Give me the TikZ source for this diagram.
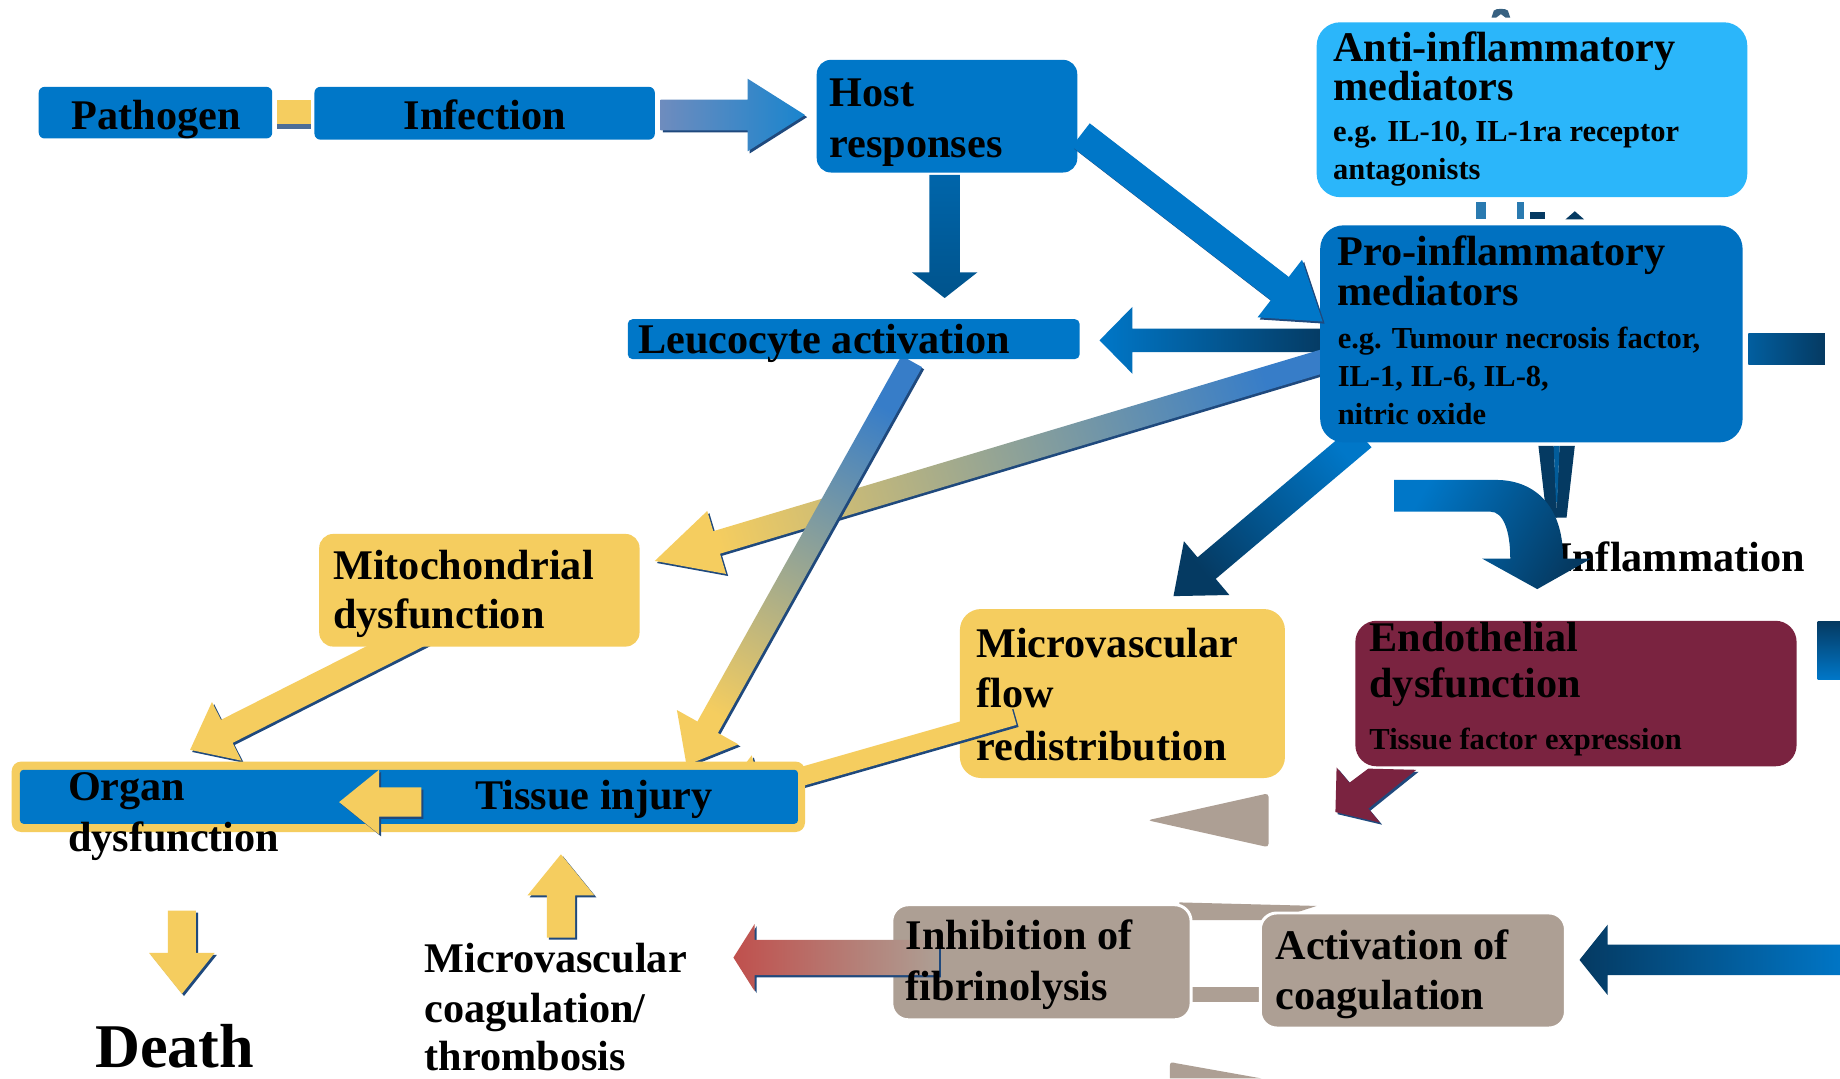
\documentclass[tikz,border=0pt]{standalone}
\usepackage{fontspec}
\setmainfont{Liberation Serif}
\usetikzlibrary{calc}

\definecolor{cblue}{RGB}{0,119,200}
\definecolor{cpro}{RGB}{0,113,193}
\definecolor{canti}{RGB}{43,182,250}
\definecolor{cyel}{RGB}{245,205,95}
\definecolor{cmaroon}{RGB}{122,35,64}
\definecolor{cgrey}{RGB}{173,159,148}
\definecolor{cnavy}{RGB}{5,58,98}
\definecolor{cshadow}{RGB}{31,73,125}
\definecolor{cred}{RGB}{192,80,77}
\definecolor{cgblue}{RGB}{110,140,190}
\definecolor{cmblue}{RGB}{55,125,200}
\definecolor{cteal}{RGB}{42,122,176}

% block arrow core: #1 A, #2 B, #3 half shaft, #4 half head, #5 head length, #6 path options
\newcommand\barrowcore[6]{%
  \coordinate (aq) at ($(#2)!#5pt!(#1)$);
  \path[#6] ($(#1)!#3pt!90:(#2)$) -- ($(aq)!#3pt!90:(#2)$) -- ($(aq)!#4pt!90:(#2)$) -- (#2)
     -- ($(aq)!#4pt!-90:(#2)$) -- ($(aq)!#3pt!-90:(#2)$) -- ($(#1)!#3pt!-90:(#2)$) -- cycle;
}
\newcommand\barrow[7]{%
  \path (#1); \pgfgetlastxy{\bax}{\bay}%
  \path (#2); \pgfgetlastxy{\bbx}{\bby}%
  \pgfmathsetmacro\bang{atan2(\bby-\bay,\bbx-\bax)+90}%
  \barrowcore{#1}{#2}{#3}{#4}{#5}{shade, left color=#6, right color=#7, shading angle=\bang}%
}
\newcommand\barrowsh[7]{%
  \barrowcore{#1}{#2}{#3}{#4}{#5}{fill=cshadow, transform canvas={shift={(1.8,1.8)}}}%
  \barrow{#1}{#2}{#3}{#4}{#5}{#6}{#7}%
}

\begin{document}
\begin{tikzpicture}[x=1pt,y=-1pt,
  box/.style={inner sep=0pt, outer sep=0pt, draw=none},
  txt/.style={inner sep=0pt, outer sep=0pt, text=black, font=\fontsize{36}{40}\selectfont\bfseries},
  sub/.style={inner sep=0pt, outer sep=0pt, text=black, font=\fontsize{26}{30}\selectfont\bfseries}]

\useasboundingbox (0,0) rectangle (1568,919);
\fill[white] (0,0) rectangle (1568,919);

% ---------- arrow end points ----------
\coordinate (a1s) at (563,98);   \coordinate (a1e) at (686,98);
\coordinate (a2s) at (805,149);  \coordinate (a2e) at (805,254);
\coordinate (a3s) at (921,115);  \coordinate (a3e) at (1127,274);
\coordinate (a4s) at (1130,290); \coordinate (a4e) at (937,290);
\coordinate (a5s) at (1130,307); \coordinate (a5e) at (558,478);
\coordinate (a6s) at (777,308);  \coordinate (a6e) at (585,652);
\coordinate (a7s) at (1161,372); \coordinate (a7e) at (1000,508);
\coordinate (a8s) at (364,537);  \coordinate (a8e) at (162,639);
\coordinate (a9s) at (864,610);  \coordinate (a9e) at (612,682);
\coordinate (a10s) at (359,683.5); \coordinate (a10e) at (289,683.5);
\coordinate (a11s) at (155,776); \coordinate (a11e) at (155,847);
\coordinate (a12s) at (478,799); \coordinate (a12e) at (478,728);
\coordinate (a13s) at (800,816); \coordinate (a13e) at (625,816);
\coordinate (a14s) at (1575,818); \coordinate (a14e) at (1346,818);

% ---------- grey connectors (behind grey boxes) ----------
\fill[cgrey] (1005,769) -- (1122,772) -- (1085,784) -- (1005,784) -- cycle;
\fill[cgrey] (1010,841) rectangle (1080,854);

% ---------- micro box + its arrow ----------
\node[box, fill=cyel, rounded corners=18pt, minimum width=277pt, minimum height=144pt] (micro) at (956.5,591) {};
\barrowsh{a9s}{a9e}{8}{29}{38}{cyel}{cyel}

% ---------- arrows behind boxes ----------
\barrowsh{a1s}{a1e}{13}{31}{49}{cgblue}{cblue!90!white}
\barrow{a2s}{a2e}{13}{28}{22}{cblue!85!black}{cblue!70!black}
\barrow{a4s}{a4e}{10}{28.5}{28}{cnavy}{cblue}
\barrowsh{a5s}{a5e}{10}{28}{55}{cmblue}{cyel}
\barrowsh{a6s}{a6e}{10}{30}{37}{cmblue}{cyel}
\barrow{a7s}{a7e}{12}{30}{37}{cblue}{cnavy}
\barrowsh{a8s}{a8e}{11}{28}{35}{cyel}{cyel}

% right-edge fragments
\shade[left color=cblue!60!cnavy, right color=cnavy] (1490,284) rectangle (1555,311);
\shade[top color=cnavy, bottom color=cblue] (1549,530) rectangle (1568,579);

% V shape below pro box
\fill[cnavy] (1311,380) -- (1324,380) -- (1327,441) -- (1318,441) -- cycle;
\fill[cnavy] (1329,380) -- (1342,380) -- (1335,441) -- (1326,441) -- cycle;
\fill[cblue!55!cnavy] (1324,380) -- (1329,380) -- (1327,428) -- (1326,428) -- cycle;

% small marks
\fill[cnavy!80] (1271,15) -- (1273,9) .. controls (1275,7) and (1283,7) .. (1285,9) -- (1287,15) -- (1283,15) -- (1279,12) -- (1275,15) -- cycle;
\fill[cteal] (1258,172) rectangle (1266,187);
\fill[cteal] (1293,172) rectangle (1299,187);
\fill[cnavy] (1304,181) rectangle (1317,187);
\fill[cnavy] (1334,187) -- (1342,180) -- (1350,187) -- cycle;

% ---------- boxes ----------
\fill[cyel] (236,85) rectangle (265,106);
\fill[cshadow!80] (236,106) rectangle (265,110);
\node[box, fill=cblue, rounded corners=5pt, minimum width=199pt, minimum height=44pt] (pathogen) at (132.5,96) {};
\node[box, fill=cblue, rounded corners=5pt, minimum width=290pt, minimum height=45pt] (infection) at (413,96.5) {};
\node[box, fill=cblue, rounded corners=12pt, minimum width=222pt, minimum height=96pt] (host) at (807,99) {};
\node[box, fill=cblue, rounded corners=4pt, minimum width=385pt, minimum height=34pt] (leuco) at (727.5,289) {};
\node[box, fill=canti, rounded corners=20pt, minimum width=367pt, minimum height=149pt] (anti) at (1305.5,93.5) {};
\node[box, fill=cpro, rounded corners=20pt, minimum width=360pt, minimum height=185pt] (pro) at (1305,284.5) {};
\node[box, fill=cyel, rounded corners=12pt, minimum width=273pt, minimum height=96pt] (mito) at (408.5,503) {};
\node[box, fill=cyel, rounded corners=8pt, minimum width=676pt, minimum height=60pt] (barout) at (348,679) {};
\node[box, fill=cblue, rounded corners=3pt, minimum width=663pt, minimum height=46pt] (barin) at (348.5,679) {};
\node[box, fill=cmaroon, rounded corners=18pt, minimum width=376pt, minimum height=124pt] (endo) at (1343,591) {};
\node[box, fill=cgrey, draw=white, line width=2.5pt, rounded corners=14pt, minimum width=255pt, minimum height=98pt] (inhib) at (887.5,820) {};
\node[box, fill=cgrey, draw=white, line width=2.5pt, rounded corners=14pt, minimum width=260pt, minimum height=98pt] (activ) at (1204,827) {};

% ---------- arrows on top ----------
\barrowsh{a3s}{a3e}{12.5}{31}{46}{cblue}{cblue}
\barrowsh{a10s}{a10e}{12.5}{27.5}{34}{cyel}{cyel}
\barrowsh{a11s}{a11e}{12}{28}{35}{cyel}{cyel}
\barrowsh{a12s}{a12e}{12}{28.5}{35}{cyel}{cyel}
\barrowsh{a13s}{a13e}{15}{28.5}{18}{cgrey}{cred}
\barrow{a14s}{a14e}{13}{30}{24}{cblue}{cnavy}

% maroon arrow
\fill[cshadow, transform canvas={shift={(1.8,1.8)}}] (1166,655) -- (1207,656) -- (1166,689) -- (1176,701) -- (1138,692) -- (1139,654) -- (1150,667) -- cycle;
\fill[cmaroon] (1166,655) -- (1207,656) -- (1166,689) -- (1176,701) -- (1138,692) -- (1139,654) -- (1150,667) -- cycle;

% grey triangles
\fill[cgrey, rounded corners=3pt] (978,699) -- (1081,676) -- (1081,722) -- cycle;
\fill[cgrey] (997,919) -- (997,908) .. controls (997,905) and (999,905) .. (1002,906) -- (1075,919) -- cycle;

% ---------- texts ----------
\node[txt, anchor=base] (tpath) at (133,110) {Pathogen};
\node[txt, anchor=base] (tinf) at (413,110) {Infection};
\node[txt, anchor=base west] (thost1) at (707,91) {Host};
\node[txt, anchor=base west] (thost2) at (707,134) {responses};
\node[txt, anchor=base west] (tleuco) at (544,301) {Leucocyte activation};
\node[txt, anchor=base west] (tanti1) at (1136,52) {Anti-inflammatory};
\node[txt, anchor=base west] (tanti2) at (1136,86) {mediators};
\node[sub, anchor=base west] (tanti3) at (1136,121) {e.g. IL-10, IL-1ra receptor};
\node[sub, anchor=base west] (tanti4) at (1136,153) {antagonists};
\node[txt, anchor=base west] (tpro1) at (1140,226) {Pro-inflammatory};
\node[txt, anchor=base west] (tpro2) at (1140,260) {mediators};
\node[sub, anchor=base west] (tpro3) at (1140,297) {e.g. Tumour necrosis factor,};
\node[sub, anchor=base west] (tpro4) at (1140,329) {IL-1, IL-6, IL-8,};
\node[sub, anchor=base west] (tpro5) at (1140,362) {nitric oxide};
\node[txt, anchor=base west] (tinfl) at (1326,487) {Inflammation};
\node[txt, anchor=base west] (tmito1) at (284,494) {Mitochondrial};
\node[txt, anchor=base west] (tmito2) at (284,536) {dysfunction};
\node[txt, anchor=base west] (tmv1) at (832,560) {Microvascular};
\node[txt, anchor=base west] (tmv2) at (832,603) {flow};
\node[txt, anchor=base west] (tmv3) at (832,648) {redistribution};
\node[txt, anchor=base west] (tendo1) at (1167,555) {Endothelial};
\node[txt, anchor=base west] (tendo2) at (1167,594) {dysfunction};
\node[sub, anchor=base west] (tendo3) at (1167,639) {Tissue factor expression};
\node[txt, anchor=base west] (torg1) at (58,682) {Organ};
\node[txt, anchor=base west] (torg2) at (58,726) {dysfunction};
\node[txt, anchor=base west] (ttis) at (405,690) {Tissue injury};
\node[inner sep=0pt, anchor=base west, font=\fontsize{53}{60}\selectfont\bfseries] (tdeath) at (81,910) {Death};
\node[txt, anchor=base west] (tmc1) at (362,829) {Microvascular};
\node[txt, anchor=base west] (tmc2) at (362,871) {coagulation/};
\node[txt, anchor=base west] (tmc3) at (362,912) {thrombosis};
\node[txt, anchor=base west] (tinh1) at (772,809) {Inhibition of};
\node[txt, anchor=base west] (tinh2) at (772,853) {fibrinolysis};
\node[txt, anchor=base west] (tact1) at (1087,818) {Activation of};
\node[txt, anchor=base west] (tact2) at (1087,860) {coagulation};

% curved arrow to Inflammation (over the text)
\shade[left color=cblue, right color=cnavy, shading angle=60]
  (1188,409) -- (1275,409) .. controls (1305,409) and (1332,428) .. (1332,476)
  -- (1356,476) -- (1310,502) -- (1263,476) -- (1287,476)
  .. controls (1287,452) and (1281,436) .. (1270,436) -- (1188,436) -- cycle;

\end{tikzpicture}
\end{document}
